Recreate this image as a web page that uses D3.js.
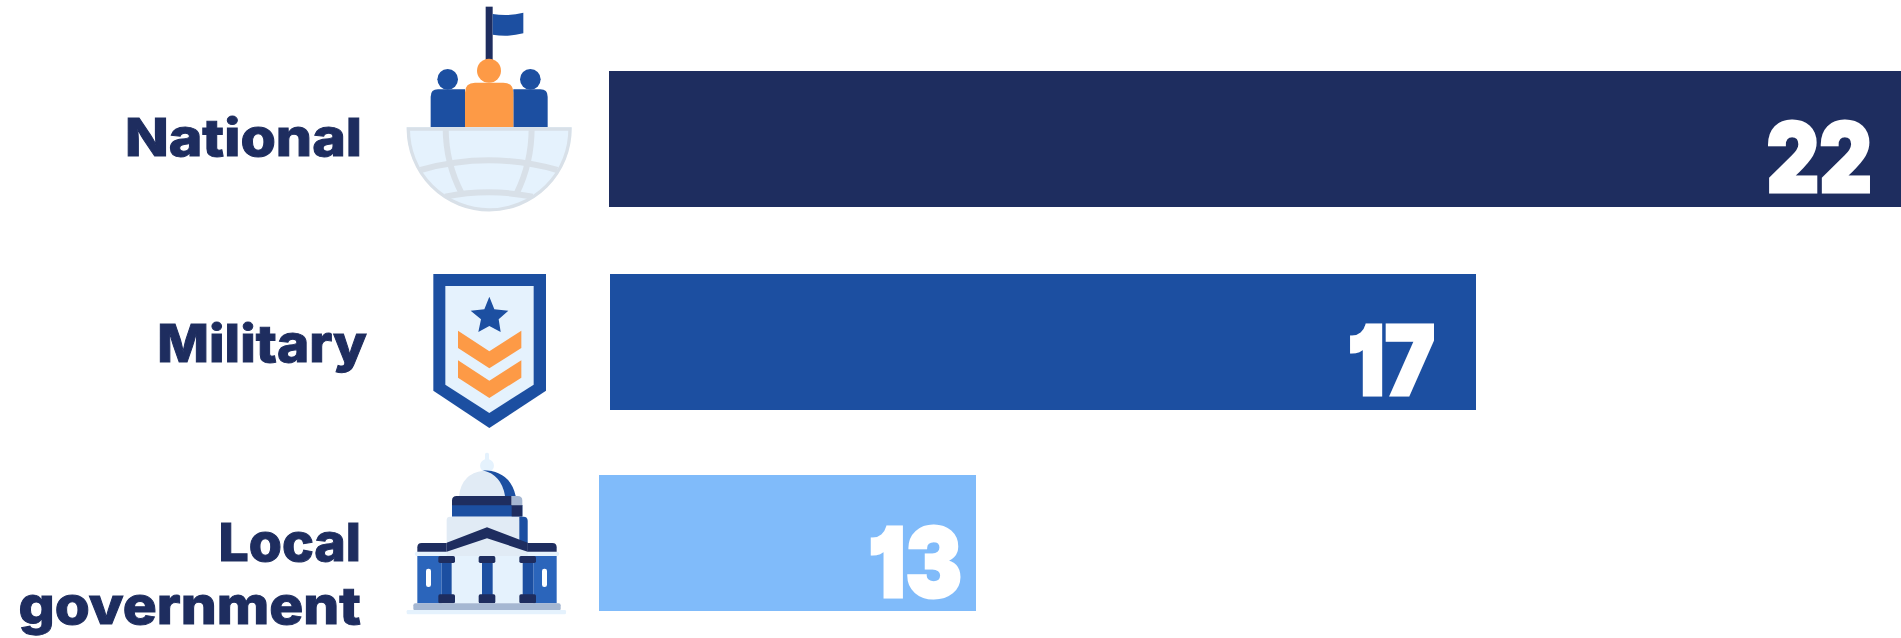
<!DOCTYPE html>
<html>
<head>
<meta charset="utf-8">
<script src="https://cdn.jsdelivr.net/npm/d3@7"></script>
<style>
  html, body { margin: 0; padding: 0; background: #fff; overflow: hidden; }
  svg { display: block; }
  .cat { font-family: Inter, sans-serif; font-weight: 800; font-size: 52px; fill: #1e2d5f; text-anchor: end; stroke: #1e2d5f; stroke-width: 1px; }
  .val { font-family: Inter, sans-serif; font-weight: 900; font-size: 96px; fill: #fff; text-anchor: end; stroke: #fff; stroke-width: 3px; font-feature-settings: "cv01"; }
</style>
</head>
<body>
<div class="container"></div>
<script>
const categories = ["National", "Military", "Local government"];
const values = [22, 17, 13];
const labelLines = [["National"], ["Military"], ["Local", "government"]];
const colors = ["#1e2d5f", "#1c4fa1", "#80bbfa"];

const w = 1901;
const h = 638;
const barHeight = 136;
const dark = "#1e2d5f", blue = "#1c4fa1", orange = "#fd9a46", pale = "#e5f2fd", grid = "#d8e0e8";

const svg = d3.select(".container").append("svg").attr("width", w).attr("height", h);

// the bars in the source are not to scale, so the x scale is piecewise
const xScale = d3.scaleLinear().domain([13, 17, 22]).range([976, 1476, 1901]);
const yScale = d3.scaleOrdinal(categories, [71, 274, 475]);
const barStart = d3.scaleOrdinal(categories, [609, 610, 599]);
const labelRight = d3.scaleOrdinal(categories, [362, 367, 361]);
const labelBase = d3.scaleOrdinal(categories, [156, 362, 561]);
const valueInset = d3.scaleOrdinal(categories, [29, 41, 14]);
const valueBase = d3.scaleOrdinal(categories, [192, 395, 597]);

// stretch text sideways, the installed fonts are narrower than the original
const stretch = (sel, k) => sel.each(function() {
  d3.select(this)
    .attr("textLength", this.getComputedTextLength() * k)
    .attr("lengthAdjust", "spacingAndGlyphs");
});
const lineStretch = { National: 1.1, Military: 1.055, Local: 1.03, government: 1.09 };

svg.selectAll("rect.bar")
  .data(categories)
  .enter()
  .append("rect")
  .attr("class", "bar")
  .attr("x", d => barStart(d))
  .attr("y", d => yScale(d))
  .attr("width", (d, i) => xScale(values[i]) - barStart(d))
  .attr("height", barHeight)
  .attr("fill", (d, i) => colors[i]);

svg.selectAll("text.val")
  .data(categories)
  .enter()
  .append("text")
  .attr("class", "val")
  .attr("x", (d, i) => xScale(values[i]) - valueInset(d))
  .attr("y", d => valueBase(d))
  .text((d, i) => values[i])
  .each(function(d) {
    d3.select(this).call(stretch, d === "National" ? 0.85 : 0.88);
  });

categories.forEach((c, i) => {
  labelLines[i].forEach((line, j) => {
    svg.append("text")
      .attr("class", "cat")
      .attr("x", labelRight(c))
      .attr("y", labelBase(c) + j * 63)
      .text(line)
      .call(stretch, lineStretch[line]);
  });
});

// icons: drawn in 3x units, each group has its own origin
const icon = (x, y) => svg.append("g").attr("transform", `translate(${x},${y}) scale(${1 / 3})`);
const box = (g, x0, y0, x1, y1, fill, r) => g.append("rect")
  .attr("x", x0).attr("y", y0).attr("width", x1 - x0).attr("height", y1 - y0)
  .attr("rx", r || 0).attr("fill", fill);
const path = (g, d, fill) => g.append("path").attr("d", d).attr("fill", fill);

// national: people on a globe
const i1 = icon(380, 0);
box(i1, 317, 20, 338, 185, dark);
path(i1, "M338 42Q385 50 430 38L430 100Q385 112 338 104Z", blue);
i1.append("circle").attr("cx", 203).attr("cy", 238).attr("r", 31).attr("fill", blue);
i1.append("circle").attr("cx", 451).attr("cy", 238).attr("r", 31).attr("fill", blue);
path(i1, "M152 382V290Q152 268 174 268H255V382Z", blue);
path(i1, "M503 382V290Q503 268 481 268H400V382Z", blue);
i1.append("circle").attr("cx", 327).attr("cy", 212).attr("r", 36).attr("fill", orange);
path(i1, "M255 382V278Q255 248 285 248H370Q400 248 400 278V382Z", orange);
i1.append("clipPath").attr("id", "globe").append("path").attr("d", "M80 382H575A247 247 0 0 1 80 382Z");
path(i1, "M80 382H575A247 247 0 0 1 80 382Z", pale);
const lines = i1.append("g").attr("clip-path", "url(#globe)").attr("fill", "none").attr("stroke", grid).attr("stroke-width", 18);
["M197 382Q197 490 245 580", "M455 382Q455 490 410 580", "M122 510Q327 452 532 510", "M195 590Q327 564 458 590"]
  .forEach(d => lines.append("path").attr("d", d));
i1.append("path").attr("d", "M85 387H570A242.500 242.500 0 0 1 85 387Z").attr("fill", "none").attr("stroke", grid).attr("stroke-width", 10);

// military: badge
const i2 = icon(400, 260);
path(i2, "M100 42H438V392L268 504L100 392Z", blue);
path(i2, "M136 78H401V374L268 459L136 374Z", pale);
path(i2, "M268 110L283 148L325 152L296 178L302 216L268 198L235 216L243 178L212 152L253 148Z", blue);
path(i2, "M174 212L268 274L364 212V264L268 325L174 264Z", orange);
path(i2, "M174 301L268 362L364 301V353L268 414L174 353Z", orange);

// local government: capitol building
const i3 = icon(390, 440);
const light = "#e1ebf5", wall = "#2b65bb", step = "#a5b7d2";
box(i3, 285, 38, 297, 72, pale, 5);
i3.append("ellipse").attr("cx", 291).attr("cy", 77).attr("rx", 21).attr("ry", 20).attr("fill", pale);
path(i3, "M207 168Q215 100 280 92Q335 105 345 168Z", light);
path(i3, "M278 91Q360 92 377 168H345Q335 105 278 91Z", blue);
box(i3, 186, 195, 397, 230, blue);
box(i3, 365, 195, 397, 230, dark);
path(i3, "M186 196V182Q186 168 200 168H365V196Z", dark);
path(i3, "M365 196V168H383Q397 168 397 182V196Z", step);
box(i3, 170, 230, 413, 340, light, 10);
path(i3, "M388 230H400Q413 230 413 243V310H388Z", blue);
box(i3, 82, 348, 155, 490, wall);
box(i3, 430, 348, 500, 490, wall);
box(i3, 185, 348, 398, 490, pale);
box(i3, 155, 360, 185, 470, blue);
box(i3, 276, 360, 308, 470, blue);
box(i3, 398, 360, 430, 470, blue);
[[145, 195], [266, 316], [388, 438]].forEach(b => {
  box(i3, b[0], 348, b[1], 369, dark, 5);
  box(i3, b[0], 463, b[1], 490, dark, 5);
});
box(i3, 108, 386, 123, 441, "#fff", 7);
box(i3, 456, 386, 471, 441, "#fff", 7);
box(i3, 75, 335, 507, 348, pale, 5);
path(i3, "M82 335V322Q82 309 95 309H170V335Z", dark);
path(i3, "M500 335V322Q500 309 487 309H412V335Z", dark);
path(i3, "M170 335L291 295L413 335V348H170Z", light);
path(i3, "M170 308L291 262L413 308V335L291 295L170 335Z", dark);
box(i3, 70, 490, 512, 512, step, 6);
box(i3, 50, 510, 528, 523, pale, 4);
</script>
</body>
</html>
